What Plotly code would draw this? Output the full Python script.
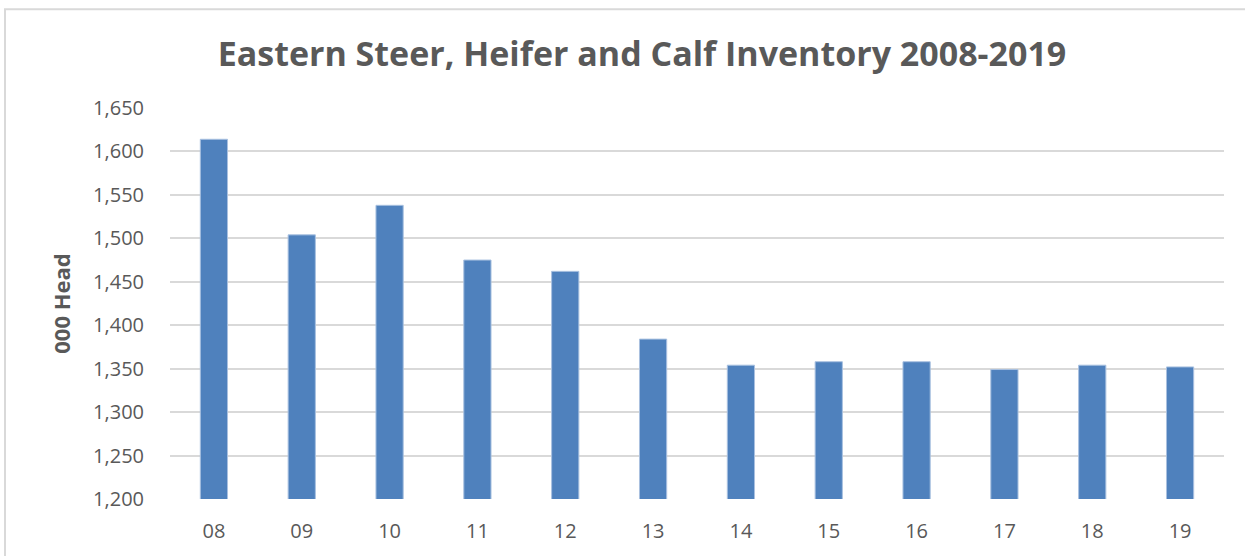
import plotly.graph_objects as go

# Eastern steer, heifer and calf inventory (thousand head), 2008-2019
years = ["08", "09", "10", "11", "12", "13", "14", "15", "16", "17", "18", "19"]
inventory = [1614, 1504, 1538, 1475, 1462, 1384, 1354, 1358, 1358, 1349, 1354, 1352]

y_ticks = list(range(1200, 1651, 50))

W, H = 1245, 556
ML, MR, MT, MB = 170, 21, 108, 52
pw, ph = W - ML - MR, H - MT - MB

grey = "#595959"

fig = go.Figure(
    go.Bar(
        x=years,
        y=inventory,
        marker=dict(color="#4f81bd", line=dict(color="#a9c1e0", width=1)),
        width=0.31,
        hoverinfo="x+y",
    )
)

# light frame around the chart area
fig.add_shape(
    type="rect",
    xref="paper", yref="paper",
    x0=(5 - ML) / pw, x1=(W + 20 - ML) / pw,
    y0=-(H + 20 - MT - ph) / ph, y1=1 + (MT - 8) / ph,
    line=dict(color="#d9d9d9", width=2),
    fillcolor="rgba(0,0,0,0)",
    layer="below",
)

fig.update_layout(
    width=W,
    height=H,
    margin=dict(l=ML, r=MR, t=MT, b=MB, pad=0),
    paper_bgcolor="white",
    plot_bgcolor="white",
    showlegend=False,
    font=dict(family="Open Sans", color=grey, size=20),
    title=dict(
        text="<b>Eastern Steer, Heifer and Calf Inventory 2008-2019</b>",
        x=642 / W,
        xanchor="center",
        y=1 - 54 / H,
        yanchor="middle",
        xref="container",
        yref="container",
        font=dict(family="Open Sans", size=34, color=grey),
    ),
    xaxis=dict(
        showgrid=False,
        showline=False,
        zeroline=False,
        ticks="",
        tickfont=dict(size=20, color=grey),
        ticklabelstandoff=18,
    ),
    yaxis=dict(
        range=[1200, 1650],
        tickvals=y_ticks,
        tickformat=",",
        showgrid=True,
        gridcolor="#d9d9d9",
        gridwidth=2,
        zeroline=False,
        showline=False,
        ticks="",
        tickfont=dict(size=20, color=grey),
        ticklabelstandoff=25,
        title=dict(
            text="<b>000 Head</b>",
            font=dict(size=22, color=grey),
            standoff=16,
        ),
    ),
)

fig.write_html("out.html")
